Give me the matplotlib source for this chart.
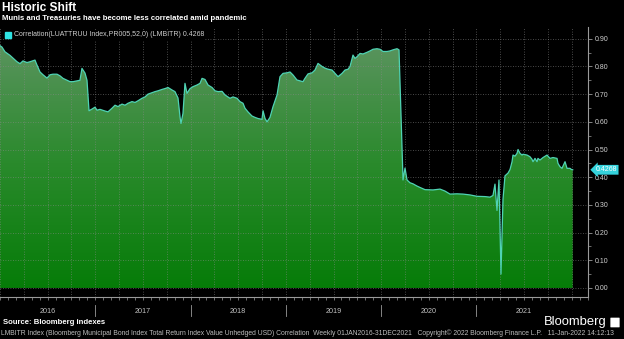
import numpy as np
import matplotlib.pyplot as plt
from matplotlib.colors import LinearSegmentedColormap
from matplotlib.patches import Polygon, Rectangle, FancyBboxPatch
from matplotlib.transforms import blended_transform_factory
from matplotlib.ticker import MultipleLocator, FormatStrFormatter

plt.rcParams['font.family'] = ['Liberation Sans', 'DejaVu Sans']

# weekly correlation (time in decimal years)
t = [2016.000, 2016.021, 2016.052, 2016.105, 2016.136, 2016.178, 2016.210, 2016.241,
     2016.283, 2016.315, 2016.367, 2016.388, 2016.420, 2016.451, 2016.493, 2016.525,
     2016.556, 2016.598, 2016.630, 2016.661, 2016.703, 2016.735, 2016.766, 2016.808,
     2016.839, 2016.860, 2016.892, 2016.913, 2016.934, 2016.965, 2016.997, 2017.018,
     2017.049, 2017.102, 2017.133, 2017.175, 2017.207, 2017.238, 2017.280, 2017.312,
     2017.343, 2017.385, 2017.417, 2017.448, 2017.490, 2017.522, 2017.553, 2017.595,
     2017.626, 2017.658, 2017.700, 2017.731, 2017.763, 2017.805, 2017.836, 2017.868,
     2017.889, 2017.899, 2017.920, 2017.941, 2017.962, 2017.994, 2018.025, 2018.067,
     2018.099, 2018.120, 2018.151, 2018.183, 2018.225, 2018.256, 2018.288, 2018.330,
     2018.361, 2018.392, 2018.413, 2018.445, 2018.487, 2018.518, 2018.550, 2018.571,
     2018.602, 2018.644, 2018.676, 2018.707, 2018.749, 2018.760, 2018.781, 2018.802,
     2018.833, 2018.865, 2018.907, 2018.938, 2018.970, 2019.012, 2019.043, 2019.075,
     2019.116, 2019.148, 2019.179, 2019.200, 2019.232, 2019.274, 2019.305, 2019.337,
     2019.379, 2019.410, 2019.442, 2019.484, 2019.515, 2019.547, 2019.589, 2019.620,
     2019.652, 2019.673, 2019.704, 2019.725, 2019.746, 2019.778, 2019.809, 2019.851,
     2019.882, 2019.914, 2019.956, 2019.987, 2020.019, 2020.061, 2020.092, 2020.124,
     2020.166, 2020.187, 2020.229, 2020.250, 2020.271, 2020.302, 2020.334, 2020.376,
     2020.407, 2020.460, 2020.544, 2020.617, 2020.669, 2020.722, 2020.795, 2020.858,
     2020.932, 2021.005, 2021.089, 2021.142, 2021.173, 2021.194, 2021.215, 2021.236,
     2021.257, 2021.278, 2021.299, 2021.331, 2021.352, 2021.373, 2021.383, 2021.404,
     2021.425, 2021.436, 2021.457, 2021.478, 2021.488, 2021.530, 2021.561, 2021.582,
     2021.593, 2021.614, 2021.635, 2021.645, 2021.666, 2021.698, 2021.740, 2021.771,
     2021.803, 2021.845, 2021.855, 2021.876, 2021.897, 2021.929, 2021.950, 2021.981,
     2021.995, 2022.010]
corr = [0.875, 0.870, 0.853, 0.840, 0.830, 0.817, 0.810, 0.820,
        0.814, 0.817, 0.823, 0.805, 0.780, 0.770, 0.758, 0.770,
        0.772, 0.772, 0.766, 0.757, 0.750, 0.745, 0.745, 0.748,
        0.750, 0.793, 0.776, 0.750, 0.640, 0.646, 0.653, 0.642,
        0.645, 0.639, 0.636, 0.649, 0.660, 0.655, 0.664, 0.660,
        0.667, 0.673, 0.670, 0.676, 0.685, 0.690, 0.700, 0.705,
        0.709, 0.712, 0.717, 0.720, 0.724, 0.715, 0.709, 0.686,
        0.618, 0.594, 0.630, 0.739, 0.703, 0.720, 0.727, 0.733,
        0.739, 0.757, 0.753, 0.733, 0.724, 0.712, 0.709, 0.710,
        0.697, 0.690, 0.685, 0.690, 0.685, 0.673, 0.667, 0.649,
        0.636, 0.621, 0.616, 0.612, 0.609, 0.640, 0.612, 0.600,
        0.616, 0.655, 0.697, 0.763, 0.775, 0.777, 0.780, 0.769,
        0.751, 0.748, 0.745, 0.757, 0.773, 0.777, 0.787, 0.811,
        0.800, 0.794, 0.790, 0.787, 0.775, 0.763, 0.775, 0.787,
        0.790, 0.800, 0.841, 0.829, 0.835, 0.847, 0.845, 0.851,
        0.856, 0.862, 0.864, 0.862, 0.854, 0.854, 0.856, 0.860,
        0.864, 0.860, 0.390, 0.433, 0.390, 0.380, 0.376, 0.368,
        0.363, 0.355, 0.354, 0.357, 0.350, 0.339, 0.340, 0.339,
        0.336, 0.331, 0.330, 0.328, 0.334, 0.375, 0.280, 0.390,
        0.050, 0.320, 0.405, 0.415, 0.428, 0.456, 0.480, 0.476,
        0.486, 0.500, 0.486, 0.480, 0.483, 0.480, 0.474, 0.465,
        0.456, 0.468, 0.456, 0.468, 0.462, 0.471, 0.480, 0.468,
        0.471, 0.468, 0.450, 0.438, 0.432, 0.456, 0.432, 0.432,
        0.428, 0.4268]

years = [2016, 2017, 2018, 2019, 2020, 2021]
last_value = '0.4268'

fig = plt.figure(figsize=(6.24, 3.39), dpi=100, facecolor='black')
ax = fig.add_axes([0, 0.124, 0.9423, 0.796])
ax.set_facecolor('black')
x0, x1 = 2016.0, 2022.17
ax.set_xlim(x0, x1)

# gradient area under the line
cmap = LinearSegmentedColormap.from_list('bbg', ['#067c08', '#2a8a2c', '#5c9460'])
grad = np.linspace(0, 1, 256).reshape(-1, 1)
im = ax.imshow(grad, cmap=cmap, aspect='auto', origin='lower',
               extent=[x0, x1, 0, 0.9], zorder=1)
verts = np.column_stack([[t[0]] + t + [t[-1]], [0] + corr + [0]])
area = Polygon(verts, closed=True, facecolor='none', edgecolor='none')
ax.add_patch(area)
im.set_clip_path(area)
ax.plot(t, corr, color='#4fd3b4', lw=0.9, zorder=3)

# grid
ax.xaxis.set_major_locator(MultipleLocator(0.25))
ax.xaxis.set_minor_locator(MultipleLocator(1 / 12))
ax.yaxis.set_major_locator(MultipleLocator(0.1))
ax.yaxis.set_minor_locator(MultipleLocator(0.05))
ax.set_ylim(-0.0325, 0.942)
ax.grid(True, which='major', color='#8a8a8a', lw=0.6, ls=(0, (1, 2)), alpha=0.7)
ax.set_axisbelow('line')

for s in ['left', 'top']:
    ax.spines[s].set_visible(False)
for s in ['right', 'bottom']:
    ax.spines[s].set_color('#9a9a9a')
    ax.spines[s].set_linewidth(0.8)

ax.yaxis.tick_right()
ax.yaxis.set_major_formatter(FormatStrFormatter('%.2f'))
ax.tick_params(axis='y', which='major', colors='#9a9a9a', labelcolor='#d0d0d0',
               labelsize=5, length=3, width=0.6, pad=2)
ax.tick_params(axis='y', which='minor', colors='#9a9a9a', length=2, width=0.5)
ax.tick_params(axis='x', which='both', colors='#9a9a9a', labelbottom=False,
               length=2.5, width=0.5)

# year labels and separators below the axis
bt = blended_transform_factory(ax.transData, ax.transAxes)
for y in years:
    ax.text(y + 0.5, -0.055, str(y), transform=bt, ha='center', va='center',
            fontsize=5.2, color='#c0c0c0')
    if y > years[0]:
        ax.plot([y, y], [-0.03, -0.07], transform=bt, color='#9a9a9a',
                lw=0.6, clip_on=False)

# last value tag
rt = blended_transform_factory(ax.transAxes, ax.transData)
ax.text(1.013, corr[-1], last_value, transform=rt, ha='left', va='center',
        fontsize=5.0, color='white', zorder=6, clip_on=False,
        bbox=dict(boxstyle='larrow,pad=0.2', fc='#35d3dc', ec='none'))

# titles and legend
fig.text(0.004, 1 - 2 / 339, 'Historic Shift', ha='left', va='top',
         fontsize=8.6, fontweight='bold', color='white')
fig.text(0.004, 1 - 15 / 339, 'Munis and Treasuries have become less correlated amid pandemic',
         ha='left', va='top', fontsize=5.6, fontweight='bold', color='white')
fig.add_artist(Rectangle((5 / 624, 1 - 38 / 339), 6 / 624, 6 / 339,
                         transform=fig.transFigure, color='#2fe3e3'))
fig.text(14 / 624, 1 - 35 / 339, 'Correlation(LUATTRUU Index,PR005,52,0) (LMBITR) 0.4268',
         ha='left', va='center', fontsize=5.0, color='#cfcfcf',
         bbox=dict(boxstyle='square,pad=0.15', fc='black', ec='none'))

# footer
fig.text(3 / 624, 1 - 323 / 339, 'Source: Bloomberg indexes', ha='left', va='center',
         fontsize=5.6, fontweight='bold', color='white')
fig.text(1 / 624, 1 - 333 / 339,
         'LMBITR Index (Bloomberg Municipal Bond Index Total Return Index Value Unhedged USD) '
         'Correlation  Weekly 01JAN2016-31DEC2021   Copyright\u00a9 2022 Bloomberg Finance L.P.   '
         '11-Jan-2022 14:12:13',
         ha='left', va='center', fontsize=4.9, color='#bdbdbd')
fig.text(607 / 624, 1 - 322 / 339, 'Bloomberg', ha='right', va='center',
         fontsize=9.4, color='white')
fig.add_artist(FancyBboxPatch((611 / 624, 1 - 327 / 339), 8 / 624, 9 / 339,
                              boxstyle='round,pad=0.001', transform=fig.transFigure,
                              fc='white', ec='none'))

fig.savefig('out.png', dpi=100, facecolor='black')
